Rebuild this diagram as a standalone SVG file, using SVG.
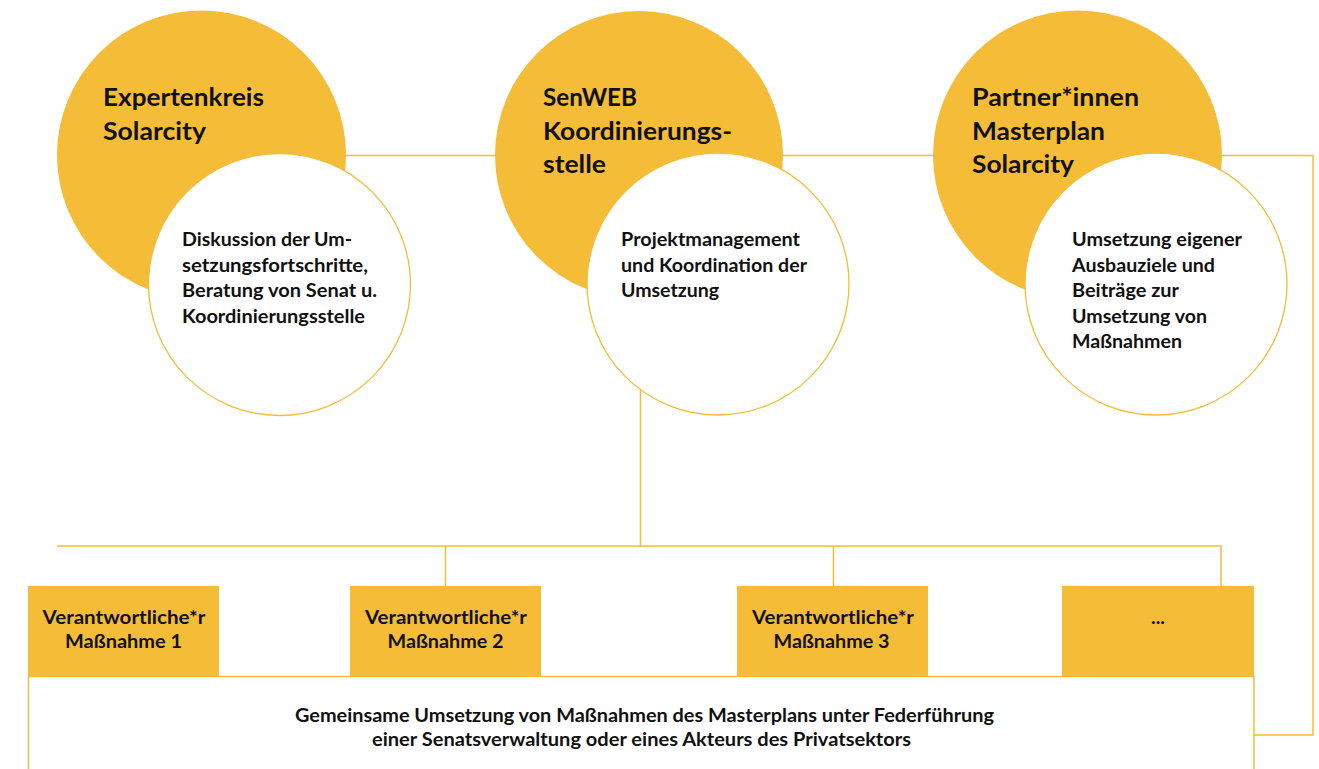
<svg xmlns="http://www.w3.org/2000/svg" width="1319" height="769" viewBox="0 0 1319 769">
<style>
  .bg{fill:#ffffff}
  .big{fill:#F5BC38}
  .inner{fill:#ffffff;stroke:#F5BC38;stroke-width:1.3}
  .box{fill:#F5BC38}
  .frame{fill:#ffffff;stroke:#F5BC38;stroke-width:1.5}
  .conn{fill:none;stroke:#F5BC38;stroke-width:1.5}
  text{font-family:Lato,"Open Sans","Liberation Sans",sans-serif;font-weight:bold;fill:#111111}
  .t{font-size:25.5px}
  .b{font-size:19.5px}
  .c{text-anchor:middle}
</style>
<rect class="bg" x="0" y="0" width="1319" height="769"/>
<g id="connectors">
  <line class="conn" x1="340" y1="155.5" x2="500" y2="155.5"/>
  <line class="conn" x1="778" y1="155.5" x2="938" y2="155.5"/>
  <polyline class="conn" points="1215,155.5 1313,155.5 1313,735 1254,735"/>
  <line class="conn" x1="640.5" y1="380" x2="640.5" y2="546"/>
  <polyline class="conn" points="57,546 1221,546 1221,586"/>
  <line class="conn" x1="445.5" y1="546" x2="445.5" y2="586"/>
  <line class="conn" x1="833.5" y1="546" x2="833.5" y2="586"/>
</g>
<g id="expertenkreis">
  <circle class="big" cx="201.5" cy="155" r="144.5"/>
  <text class="t" x="103" y="106" textLength="161" lengthAdjust="spacingAndGlyphs">Expertenkreis</text>
  <text class="t" x="103" y="139.5" textLength="103" lengthAdjust="spacingAndGlyphs">Solarcity</text>
  <circle class="inner" cx="279.5" cy="284.5" r="131"/>
  <text class="b" x="182" y="246" textLength="170" lengthAdjust="spacingAndGlyphs">Diskussion der Um-</text>
  <text class="b" x="182" y="271.5" textLength="186" lengthAdjust="spacingAndGlyphs">setzungsfortschritte,</text>
  <text class="b" x="182" y="297" textLength="195" lengthAdjust="spacingAndGlyphs">Beratung von Senat u.</text>
  <text class="b" x="182" y="322.5" textLength="183" lengthAdjust="spacingAndGlyphs">Koordinierungsstelle</text>
</g>
<g id="senweb">
  <circle class="big" cx="639" cy="155" r="144"/>
  <text class="t" x="543" y="106" textLength="94" lengthAdjust="spacingAndGlyphs">SenWEB</text>
  <text class="t" x="543" y="139.5" textLength="189" lengthAdjust="spacingAndGlyphs">Koordinierungs-</text>
  <text class="t" x="543" y="173" textLength="63" lengthAdjust="spacingAndGlyphs">stelle</text>
  <circle class="inner" cx="718" cy="284" r="131"/>
  <text class="b" x="621" y="246" textLength="179" lengthAdjust="spacingAndGlyphs">Projektmanagement</text>
  <text class="b" x="621" y="271.5" textLength="186" lengthAdjust="spacingAndGlyphs">und Koordination der</text>
  <text class="b" x="621" y="297" textLength="98" lengthAdjust="spacingAndGlyphs">Umsetzung</text>
</g>
<g id="partner">
  <circle class="big" cx="1077.5" cy="155" r="144.5"/>
  <text class="t" x="972" y="106" textLength="167" lengthAdjust="spacingAndGlyphs">Partner*innen</text>
  <text class="t" x="972" y="139.5" textLength="133" lengthAdjust="spacingAndGlyphs">Masterplan</text>
  <text class="t" x="972" y="173" textLength="102" lengthAdjust="spacingAndGlyphs">Solarcity</text>
  <circle class="inner" cx="1156" cy="284" r="131"/>
  <text class="b" x="1072" y="246" textLength="170" lengthAdjust="spacingAndGlyphs">Umsetzung eigener</text>
  <text class="b" x="1072" y="271.5" textLength="143" lengthAdjust="spacingAndGlyphs">Ausbauziele und</text>
  <text class="b" x="1072" y="297" textLength="107" lengthAdjust="spacingAndGlyphs">Beiträge zur</text>
  <text class="b" x="1072" y="322.5" textLength="135" lengthAdjust="spacingAndGlyphs">Umsetzung von</text>
  <text class="b" x="1072" y="348" textLength="110" lengthAdjust="spacingAndGlyphs">Maßnahmen</text>
</g>
<g id="gemeinsam">
  <rect class="frame" x="28.5" y="676.5" width="1225.5" height="120"/>
  <text class="b c" x="644.5" y="722" textLength="699" lengthAdjust="spacingAndGlyphs">Gemeinsame Umsetzung von Maßnahmen des Masterplans unter Federführung</text>
  <text class="b c" x="641.5" y="746" textLength="539" lengthAdjust="spacingAndGlyphs">einer Senatsverwaltung oder eines Akteurs des Privatsektors</text>
</g>
<g id="massnahme1">
  <rect class="box" x="28" y="586" width="191" height="90"/>
  <text class="b c" x="124" y="624" textLength="163" lengthAdjust="spacingAndGlyphs">Verantwortliche*r</text>
  <text class="b c" x="123.5" y="648" textLength="117" lengthAdjust="spacingAndGlyphs">Maßnahme 1</text>
</g>
<g id="massnahme2">
  <rect class="box" x="350" y="586" width="191" height="90"/>
  <text class="b c" x="446" y="624" textLength="162" lengthAdjust="spacingAndGlyphs">Verantwortliche*r</text>
  <text class="b c" x="445.5" y="648" textLength="116" lengthAdjust="spacingAndGlyphs">Maßnahme 2</text>
</g>
<g id="massnahme3">
  <rect class="box" x="737" y="586" width="191" height="90"/>
  <text class="b c" x="833" y="624" textLength="162" lengthAdjust="spacingAndGlyphs">Verantwortliche*r</text>
  <text class="b c" x="831.5" y="648" textLength="116" lengthAdjust="spacingAndGlyphs">Maßnahme 3</text>
</g>
<g id="weitere">
  <rect class="box" x="1062" y="586" width="192" height="90"/>
  <text class="b c" x="1158" y="624">...</text>
</g>
</svg>
